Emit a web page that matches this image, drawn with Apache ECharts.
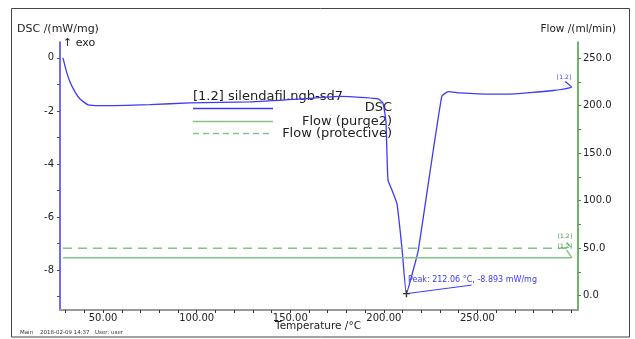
<!DOCTYPE html>
<html><head><meta charset="utf-8">
<script src="https://cdn.jsdelivr.net/npm/echarts@6/dist/echarts.min.js"></script>
<style>html,body{margin:0;padding:0;background:#fff}#c{width:635px;height:339px}</style>
</head><body><div id="c"></div>
<script>
// ---- data ----
const dscTemps  = [28.6, 30.2, 32.3, 35.0, 37.7, 42.0, 48.4, 75.1, 96.4, 128.5, 155.2, 176.6, 190.0, 196.9, 199.5, 201.1, 202.2, 204.4, 207.0, 209.7, 212.06, 215.7, 218.4, 230.9, 234.4, 240.7, 256.7, 265.6, 290.4, 300.3, 296.8];
const dscValues = [0.0, -0.45, -0.9, -1.28, -1.55, -1.77, -1.80, -1.76, -1.70, -1.66, -1.55, -1.45, -1.50, -1.55, -1.70, -2.40, -4.60, -5.00, -5.50, -7.20, -8.893, -8.00, -7.25, -1.46, -1.27, -1.32, -1.37, -1.37, -1.23, -1.10, -0.89];
const flowTemps = [28.6, 300.4, 297.6];
const purge2Flow = [40, 40, 48];
const protectiveFlow = [50, 50, 56];
const xTickLabels = [50, 100, 150, 200, 250];
const dscTickLabels = [0, -2, -4, -6, -8];
const flowTickLabels = [0, 50, 100, 150, 200, 250];
const peakPoint = [212.06, -8.893];
const peakLabelEnd = [246.9, -8.57];
const seriesNames = ['DSC', 'Flow (purge2)', 'Flow (protective)'];
const sampleName = '[1.2] silendafil.ngb-sd7';

const BLUE = '#3c3cf5', GREEN_L = '#86c386', GREEN_AX = '#3f9a3f';
const FF = '"DejaVu Sans", sans-serif';

function range(a, b, s) { const r = []; for (let v = a; v <= b + 1e-9; v += s) r.push(+v.toFixed(6)); return r; }
const zip = (a, b) => a.map((v, i) => [v, b[i]]);

const chart = echarts.init(document.getElementById('c'), null, {renderer: 'canvas'});
const T = (text, x, y, size, color, align, extra) => Object.assign({
  type: 'text', x: x, y: y, silent: true,
  style: {text: text, font: size + 'px ' + FF, fill: color || '#222', textAlign: align || 'left', align: align || 'left', textVerticalAlign: 'middle', verticalAlign: 'middle'}
}, extra || {});

chart.setOption({
  animation: false,
  grid: {left: 60, right: 57, top: 42, bottom: 29},
  xAxis: {
    type: 'value', min: 27, max: 303.7,
    axisLine: {show: true, onZero: false, lineStyle: {color: '#999', width: 2}},
    axisTick: {show: true, length: 3, customValues: range(30, 300, 10), lineStyle: {color: '#333'}},
    axisLabel: {customValues: xTickLabels, formatter: v => v.toFixed(2), fontFamily: FF, fontSize: 10, color: '#222', margin: 3},
    splitLine: {show: false}
  },
  yAxis: [{
    type: 'value', min: -9.51, max: 0.60, position: 'left',
    axisLine: {show: true, onZero: false, lineStyle: {color: BLUE, width: 1.5}},
    axisTick: {show: true, length: 3, customValues: range(-9, 0, 1), lineStyle: {color: BLUE}},
    axisLabel: {customValues: dscTickLabels, formatter: v => String(v), fontFamily: FF, fontSize: 10, color: '#222', margin: 6},
    splitLine: {show: false}
  }, {
    type: 'value', min: -15.0, max: 266.8, position: 'right',
    axisLine: {show: true, onZero: false, lineStyle: {color: GREEN_AX, width: 1.5}},
    axisTick: {show: true, length: 3, customValues: range(0, 250, 25), lineStyle: {color: GREEN_AX}},
    axisLabel: {customValues: flowTickLabels, formatter: v => v.toFixed(1), fontFamily: FF, fontSize: 10, color: '#222', margin: 5},
    splitLine: {show: false}
  }],
  series: [{
    name: seriesNames[0], type: 'line', xAxisIndex: 0, yAxisIndex: 0,
    data: zip(dscTemps, dscValues), showSymbol: false, symbol: 'none', smooth: 0.15,
    lineStyle: {color: BLUE, width: 1.3},
    markLine: {silent: true, symbol: 'none', label: {show: false}, lineStyle: {color: BLUE, width: 1, type: 'solid'},
      data: [[{coord: peakPoint}, {coord: peakLabelEnd}]]},
    markPoint: {silent: true, data: [
      {coord: peakPoint, symbol: 'path://M4,0h2v4h4v2h-4v4h-2v-4h-4v-2h4z', symbolSize: 7, itemStyle: {color: '#333'},
        label: {show: true, formatter: 'Peak: 212.06 °C, -8.893 mW/mg', position: [5, -10], align: 'left', verticalAlign: 'middle', fontFamily: FF, fontSize: 8, color: BLUE}},
      {coord: [296.2, -0.755], symbol: 'circle', symbolSize: 0,
        label: {show: true, formatter: '[1.2]', position: 'inside', fontFamily: FF, fontSize: 6, color: BLUE}}
    ]}
  }, {
    name: seriesNames[1], type: 'line', yAxisIndex: 1,
    data: zip(flowTemps, purge2Flow), showSymbol: false, symbol: 'none',
    lineStyle: {color: GREEN_L, width: 1.5},
    markPoint: {silent: true, data: [{coord: [296.7, 52.3], symbol: 'circle', symbolSize: 0,
      label: {show: true, formatter: '[1.2]', position: 'inside', fontFamily: FF, fontSize: 6, color: GREEN_AX}}]}
  }, {
    name: seriesNames[2], type: 'line', yAxisIndex: 1,
    data: zip(flowTemps, protectiveFlow), showSymbol: false, symbol: 'none',
    lineStyle: {color: GREEN_L, width: 1.5, type: [9, 6]},
    markPoint: {silent: true, data: [{coord: [296.7, 62], symbol: 'circle', symbolSize: 0,
      label: {show: true, formatter: '[1.2]', position: 'inside', fontFamily: FF, fontSize: 6, color: GREEN_AX}}]}
  }],
  graphic: [
    {type: 'rect', silent: true, shape: {x: 11.5, y: 8.5, width: 618, height: 328.5}, style: {fill: 'none', stroke: '#444', lineWidth: 1}},
    T('DSC /(mW/mg)', 17, 29, 11, '#222'),
    T('\u2191 exo', 63, 43, 11, '#222'),
    T('Flow /(ml/min)', 616, 29, 10.5, '#222', 'right'),
    T('Temperature /\u00b0C', 275, 326, 10.5, '#222'),
    T('Main', 20, 333, 5.5, '#333'),
    T('2018-02-09 14:37', 40, 333, 5.5, '#333'),
    T('User: user', 95, 333, 5.5, '#333'),
    T(sampleName, 193, 97, 13, '#222'),
    {type: 'line', silent: true, shape: {x1: 193, y1: 108.5, x2: 273, y2: 108.5}, style: {stroke: BLUE, lineWidth: 1.5}},
    T(seriesNames[0], 392, 108, 13, '#222', 'right'),
    {type: 'line', silent: true, shape: {x1: 193, y1: 121.5, x2: 273, y2: 121.5}, style: {stroke: GREEN_L, lineWidth: 1.5}},
    T(seriesNames[1], 392, 121.5, 13, '#222', 'right'),
    {type: 'line', silent: true, shape: {x1: 193, y1: 133.5, x2: 273, y2: 133.5}, style: {stroke: GREEN_L, lineWidth: 1.5, lineDash: [6, 4]}},
    T(seriesNames[2], 392, 133.5, 13, '#222', 'right')
  ]
});
</script>
</body></html>
